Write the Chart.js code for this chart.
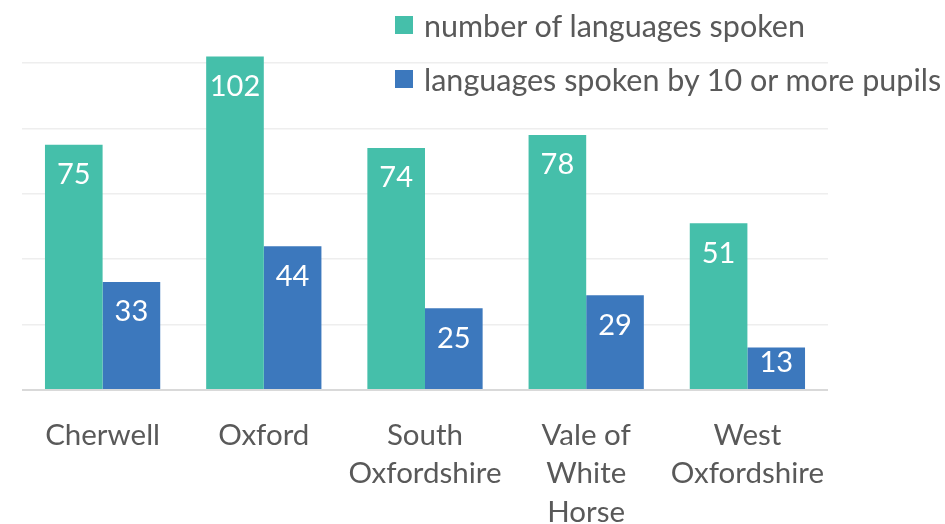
<!DOCTYPE html>
<html>
<head>
<meta charset="utf-8">
<script src="https://cdn.jsdelivr.net/npm/chart.js@4"></script>
<style>
  html, body { margin: 0; padding: 0; background: #fff; overflow: hidden; }
  #wrap { position: relative; width: 945px; height: 524px; }
  #legend { position: absolute; left: 395px; top: 6px; font-family: Lato, sans-serif; font-size: 30.5px; color: #595959; }
  #legend .item { display: flex; align-items: center; height: 38px; margin-bottom: 16px; white-space: nowrap; }
  #legend .box { width: 18px; height: 18px; margin-right: 11px; }
</style>
</head>
<body>
<div id="wrap">
  <canvas id="langChart" width="945" height="524"></canvas>
  <div id="legend"></div>
</div>
<script>
const districts = [['Cherwell'], ['Oxford'], ['South', 'Oxfordshire'], ['Vale of', 'White', 'Horse'], ['West', 'Oxfordshire']];
const seriesNames = ['number of languages spoken', 'languages spoken by 10 or more pupils'];
const languagesSpoken = [75, 102, 74, 78, 51];
const spokenBy10Plus = [33, 44, 25, 29, 13];
const yTicks = [0, 20, 40, 60, 80, 100];
const colours = ['#45BFAA', '#3C78BD'];

const fontFamily = 'Lato, sans-serif';

// white value labels just inside the top of each bar
const valueLabels = {
    id: 'valueLabels',
    afterDatasetsDraw(chart) {
        const ctx = chart.ctx;
        ctx.save();
        ctx.fillStyle = '#fff';
        ctx.font = '29px ' + fontFamily;
        ctx.textAlign = 'center';
        ctx.textBaseline = 'middle';
        chart.data.datasets.forEach(function(ds, i) {
            chart.getDatasetMeta(i).data.forEach(function(bar, j) {
                // short bars: keep the label inside the bar
                const y = Math.min(bar.y + 30, bar.base - 26);
                ctx.fillText(ds.data[j], bar.x, y);
            });
        });
        ctx.restore();
    }
};

const ctx = document.getElementById('langChart').getContext('2d');
const chart = new Chart(ctx, {
    type: 'bar',
    data: {
        labels: districts,
        datasets: [
            { label: seriesNames[0], data: languagesSpoken, backgroundColor: colours[0] },
            { label: seriesNames[1], data: spokenBy10Plus, backgroundColor: colours[1] }
        ]
    },
    options: {
        responsive: false,
        animation: false,
        layout: { padding: { left: 22, right: 117, top: 0, bottom: 0 } },
        datasets: { bar: { categoryPercentage: 0.715, barPercentage: 1 } },
        scales: {
            x: {
                grid: { display: false },
                border: { display: false },
                ticks: {
                    color: '#595959',
                    font: { family: fontFamily, size: 29.5, lineHeight: '38.5px' },
                    padding: 18,
                    maxRotation: 0,
                    autoSkip: false
                },
                afterFit(scale) { scale.height = 134; }
            },
            y: {
                min: 0,
                max: 119.3,
                border: { display: false },
                ticks: { display: false },
                afterBuildTicks(scale) { scale.ticks = yTicks.map(v => ({ value: v })); },
                grid: {
                    drawTicks: false,
                    color: c => c.tick && c.tick.value === 0 ? '#D9D9D9' : '#EEEEEE',
                    lineWidth: c => c.tick && c.tick.value === 0 ? 2 : 1.5
                }
            }
        },
        plugins: {
            legend: { display: false },
            tooltip: { enabled: false }
        }
    },
    plugins: [valueLabels]
});

// legend drawn as html over the top right of the plot
const legendDiv = document.getElementById('legend');
chart.data.datasets.forEach(function(ds) {
    const item = document.createElement('div');
    item.className = 'item';
    item.innerHTML = '<span class="box" style="background:' + ds.backgroundColor + '"></span>' + ds.label;
    legendDiv.appendChild(item);
});
</script>
</body>
</html>
